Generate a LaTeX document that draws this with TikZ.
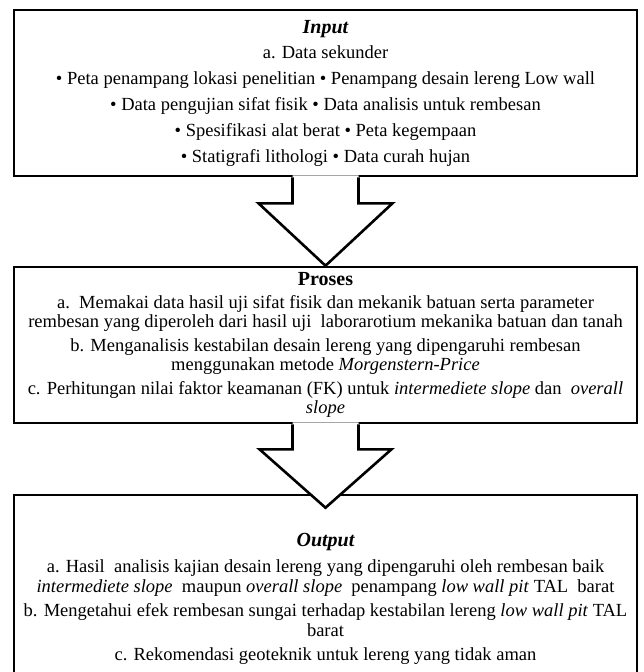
\documentclass[tikz,border=0pt]{standalone}
\usepackage{fontspec}
\setmainfont{Liberation Serif}
\usetikzlibrary{positioning,calc}

\begin{document}
\begin{tikzpicture}[x=1pt, y=-1pt,
    frame/.style={rectangle, draw, line width=2.6pt, minimum width=623pt,
                  align=center, inner xsep=2pt, inner ysep=1pt},
    bigarrow/.style={line width=2.6pt, line join=miter}
]
\useasboundingbox (0,0) rectangle (643,672);

% Input
\node[frame, minimum height=166pt, font=\fontsize{18.5}{25.8}\selectfont] (input) at (325.5,93) {%
    {\fontsize{20}{25.8}\selectfont\bfseries\itshape Input}\\
    a. Data sekunder\\
    \textbullet{} Peta penampang lokasi penelitian \textbullet{} Penampang desain lereng Low wall\\
    \textbullet{} Data pengujian sifat fisik \textbullet{} Data analisis untuk rembesan\\
    \textbullet{} Spesifikasi alat berat \textbullet{} Peta kegempaan\\
    \textbullet{} Statigrafi lithologi \textbullet{} Data curah hujan};

% Proses
\node[frame, minimum height=156pt, font=\fontsize{18.5}{19}\selectfont] (proses) at (325.5,345) {%
    {\fontsize{20}{19}\selectfont\bfseries Proses}\\[4pt]
    a.\ \ Memakai data hasil uji sifat fisik dan mekanik batuan serta parameter\\
    rembesan yang diperoleh dari hasil uji\ \ laborarotium mekanika batuan dan tanah\\[5pt]
    b. Menganalisis kestabilan desain lereng yang dipengaruhi rembesan\\
    menggunakan metode \textit{Morgenstern-Price}\\[5pt]
    c. Perhitungan nilai faktor keamanan (FK) untuk \textit{intermediete slope} dan\ \ \textit{overall}\\
    \textit{slope}};

% Output
\node[frame, minimum height=208pt, font=\fontsize{18.5}{19.5}\selectfont] (output) at (325.5,599) {%
    {\fontsize{20}{19.5}\selectfont\bfseries\itshape Output}\\[7pt]
    a. Hasil\ \ analisis kajian desain lereng yang dipengaruhi oleh rembesan baik\\
    \textit{intermediete slope}\ \ maupun \textit{overall slope}\ \ penampang \textit{low wall pit} TAL\ \ barat\\[5pt]
    b. Mengetahui efek rembesan sungai terhadap kestabilan lereng \textit{low wall pit} TAL\\
    barat\\[5pt]
    c. Rekomendasi geoteknik untuk lereng yang tidak aman};

% Arrows
\fill[white] ($(input.south)+(-33,-2)$) -- ($(input.south)+(-33,26)$) -- ($(input.south)+(-67,26)$)
    -- (proses.north) -- ($(input.south)+(67,26)$) -- ($(input.south)+(33,26)$) -- ($(input.south)+(33,-2)$) -- cycle;
\draw[bigarrow] ($(input.south)+(-33,0)$) -- ($(input.south)+(-33,26)$) -- ($(input.south)+(-67,26)$)
    -- (proses.north) -- ($(input.south)+(67,26)$) -- ($(input.south)+(33,26)$) -- ($(input.south)+(33,0)$);

\fill[white] ($(proses.south)+(-33,-2)$) -- ($(proses.south)+(-33,25)$) -- ($(proses.south)+(-66,25)$)
    -- ($(output.north)+(0,14)$) -- ($(proses.south)+(66,25)$) -- ($(proses.south)+(33,25)$) -- ($(proses.south)+(33,-2)$) -- cycle;
\draw[bigarrow] ($(proses.south)+(-33,0)$) -- ($(proses.south)+(-33,25)$) -- ($(proses.south)+(-66,25)$)
    -- ($(output.north)+(0,14)$) -- ($(proses.south)+(66,25)$) -- ($(proses.south)+(33,25)$) -- ($(proses.south)+(33,0)$);

\end{tikzpicture}
\end{document}
